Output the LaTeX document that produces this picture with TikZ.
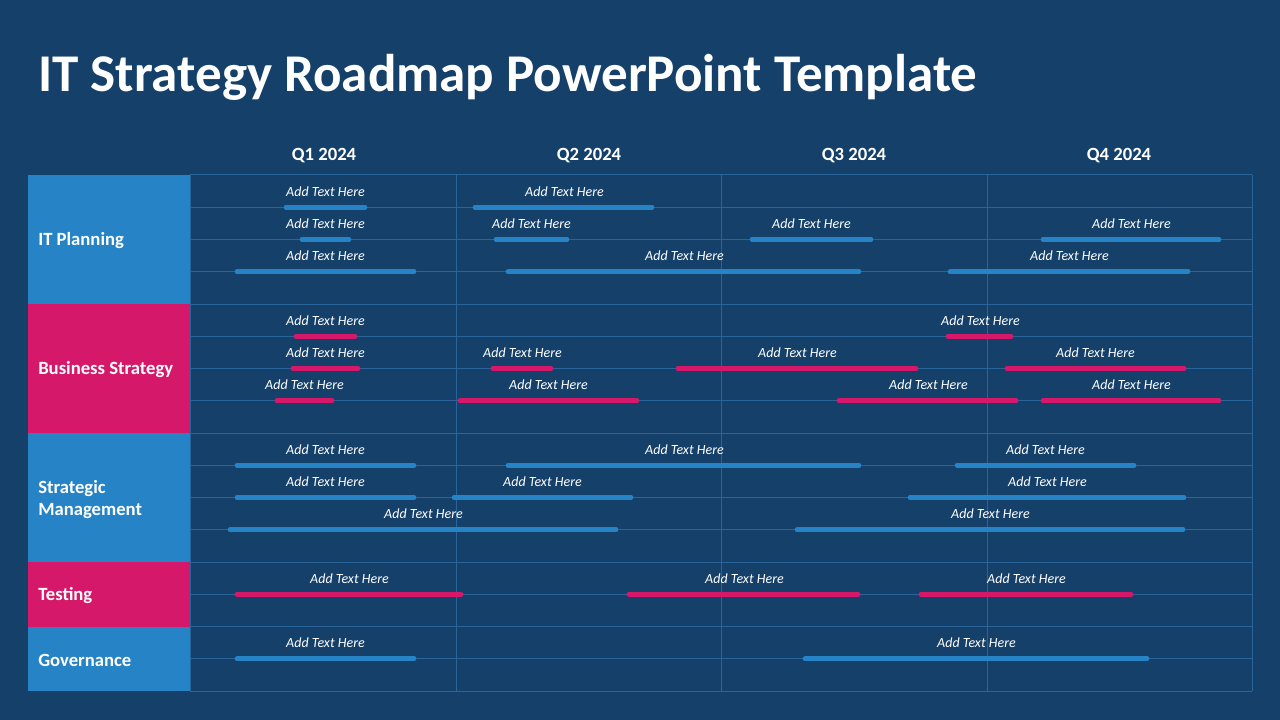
\documentclass[tikz,border=0pt]{standalone}
\usepackage{fontspec}
\setmainfont{Carlito}
\definecolor{slide}{HTML}{15406A}
\definecolor{barblue}{HTML}{2683C6}
\definecolor{barpink}{HTML}{D6186A}
\definecolor{gridline}{HTML}{29649A}
\tikzset{
    gridrule/.style={draw=gridline, line width=0.75pt},
    taskbar/.style={line width=3.6pt, line cap=round},
    tasktext/.style={white, inner sep=0pt, font=\fontsize{10.5}{12}\selectfont\itshape},
    quarter/.style={white, inner sep=0pt, font=\fontsize{14}{16}\selectfont\bfseries},
    category/.style={white, inner sep=0pt, anchor=west, align=left, font=\fontsize{14}{17}\selectfont\bfseries}
}
\begin{document}
\begin{tikzpicture}[x=0.75pt,y=-0.75pt]
	\fill[slide] (0,0) rectangle (1280,720);
	\useasboundingbox (0,0) rectangle (1280,720);

	\node[white, inner sep=0pt, anchor=base west, font=\fontsize{39.8}{48}\selectfont\bfseries] (title) at (38,92) {IT Strategy Roadmap PowerPoint Template};

	% quarters
	\foreach \qx/\q in {324/1,589/2,854/3,1119/4}
		\node[quarter] (q\q) at (\qx,155.5) {Q\q\ 2024};

	% category boxes
	\fill[barblue] (28,175) rectangle (190,304);
	\fill[barpink] (28,304) rectangle (190,433);
	\fill[barblue] (28,433) rectangle (190,562);
	\fill[barpink] (28,562) rectangle (190,627);
	\fill[barblue] (28,627) rectangle (190,691);

	\node[category] (planning) at (38,241) {IT Planning};
	\node[category] (business) at (38,370) {Business Strategy};
	\node[category] (strategic) at (38,499.5) {Strategic\\Management};
	\node[category] (testing) at (38,596) {Testing};
	\node[category] (governance) at (38,660.5) {Governance};

	% grid
	\foreach \k in {0,...,16}
		\draw[gridrule] (190,175+32.25*\k) -- (1252,175+32.25*\k);
	\foreach \gx in {190,456,721,987,1252}
		\draw[gridrule] (\gx,175) -- (\gx,691);

	% blue tasks
	\foreach \k/\a/\b/\tx [count=\i] in {1/284/367/325,1/473/654/564,
		2/300/351/325,2/494/569/531,2/750/873/811,2/1041/1221/1131,
		3/235/416/325,3/506/861/684,3/948/1190/1069,
		9/235/416/325,9/506/861/684,9/955/1136/1045,
		10/235/416/325,10/452/633/542,10/908/1186/1047,
		11/228/618/423,11/795/1185/990,
		15/235/416/325,15/803/1149/976}
	{
		\draw[taskbar, barblue] (\a+2,175+32.25*\k) -- (\b-2,175+32.25*\k);
		\node[tasktext] (blue\i) at (\tx+0.5,159+32.25*\k) {Add Text Here};
	}

	% pink tasks
	\foreach \k/\a/\b/\tx [count=\i] in {5/294/357/325,5/946/1013/980,
		6/291/360/325,6/491/553/522,6/676/918/797,6/1005/1186/1095,
		7/275/334/304,7/458/639/548,7/837/1018/928,7/1041/1221/1131,
		13/235/463/349,13/627/860/744,13/919/1133/1026}
	{
		\draw[taskbar, barpink] (\a+2,175+32.25*\k) -- (\b-2,175+32.25*\k);
		\node[tasktext] (pink\i) at (\tx+0.5,159+32.25*\k) {Add Text Here};
	}
\end{tikzpicture}
\end{document}
